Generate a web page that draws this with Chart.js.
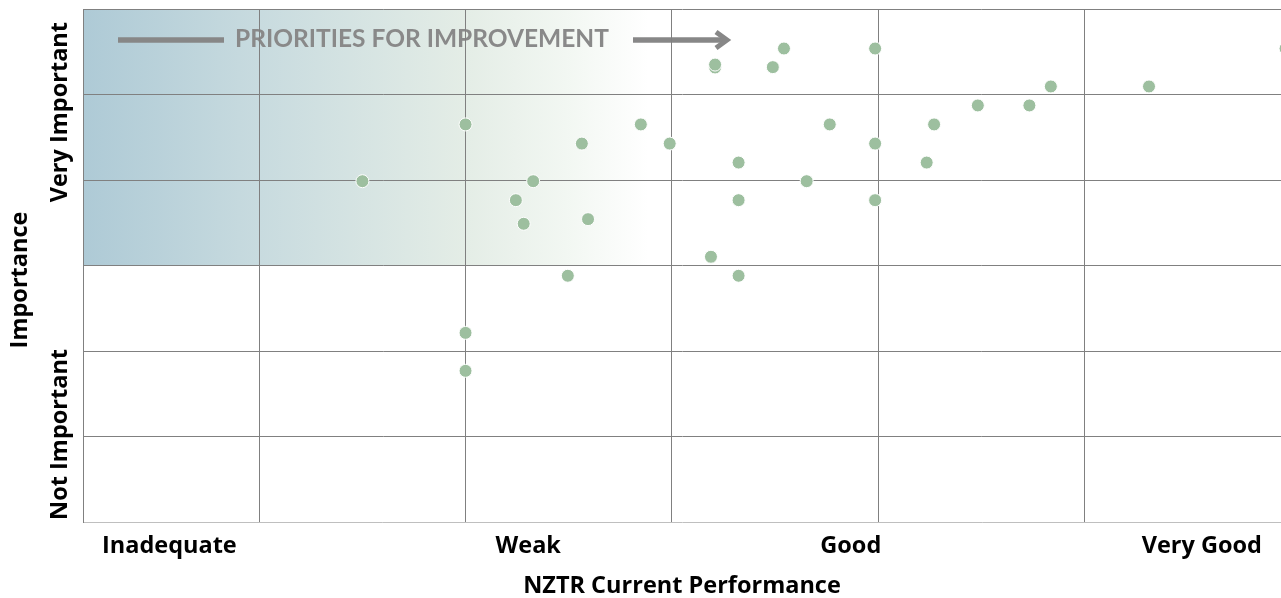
<!DOCTYPE html>
<html><head><meta charset="utf-8">
<script src="https://cdn.jsdelivr.net/npm/chart.js@4.4.1/dist/chart.umd.min.js"></script>
<style>html,body{margin:0;padding:0;background:#fff;overflow:hidden}</style>
</head><body>
<canvas id="c" width="1281" height="598"></canvas>
<script>
// ---- data ----
const perfScores = [1.75, 2.772, 2.605, 2.605, 2.745, 2.0, 2.425, 2.883, 2.282, 2.495, 2.662, 2.164, 2.827, 2.122, 2.662, 2.141, 2.297, 2.595, 2.248, 2.662, 2.993, 3.988, 3.419, 3.657, 3.242, 3.367, 3.136, 2.993, 3.118, 2.993, 2.0, 2.0];
const importance = [2.993, 3.769, 3.658, 3.675, 3.660, 3.325, 3.325, 3.325, 3.213, 3.213, 3.102, 2.993, 2.993, 2.882, 2.882, 2.744, 2.771, 2.551, 2.44, 2.44, 3.769, 3.769, 3.547, 3.547, 3.436, 3.436, 3.325, 3.213, 3.102, 2.882, 2.106, 1.884];
const xRange = [1.0726, 3.977];
const yRange = [1, 4];
const xGridTicks = [1.5, 2, 2.5, 3, 3.5];
const yGridTicks = [1.5, 2, 2.5, 3, 3.5, 4];
const xTickLabels = ['Inadequate', 'Weak', 'Good', 'Very Good'];
const xTickValues = [1.282, 2.152, 2.934, 3.785];
const yTickLabels = ['Very Important', 'Not Important'];
const yTickValues = [3.924, 2.012];
const yTitleLabels = ['Importance'];
const yTitleValues = [2.815];
const xTitle = 'NZTR Current Performance';
const bannerText = 'PRIORITIES FOR IMPROVEMENT';
const priorityZone = {xTo: 2.5, yFrom: 2.5, yTo: 4};

const FAM = '"Open Sans"';
const tickFont = {family: FAM, size: 23.5, weight: 'bold', lineHeight: 1.2};
const setTicks = vals => s => { s.ticks = vals.map(v => ({value: v})); };

const backdrop = {
  id: 'backdrop',
  beforeDraw(chart) {
    const {ctx, scales: {x, y}} = chart;
    const l = x.getPixelForValue(x.min), r = x.getPixelForValue(priorityZone.xTo);
    const t = y.getPixelForValue(priorityZone.yTo), b = y.getPixelForValue(priorityZone.yFrom);
    const g = ctx.createLinearGradient(l, 0, r, 0);
    g.addColorStop(0, '#aecad6');
    g.addColorStop(0.3, '#c8dbdf');
    g.addColorStop(0.65, '#e4ede6');
    g.addColorStop(0.82, '#f2f7f2');
    g.addColorStop(0.96, '#ffffff');
    ctx.save();
    ctx.fillStyle = g;
    ctx.fillRect(l, t, r - l, b - t);
    ctx.strokeStyle = '#878787';
    ctx.lineWidth = 5.5;
    ctx.beginPath(); ctx.moveTo(118, 40); ctx.lineTo(224, 40); ctx.stroke();
    ctx.beginPath(); ctx.moveTo(633, 40); ctx.lineTo(726, 40); ctx.stroke();
    ctx.lineWidth = 5;
    ctx.lineJoin = 'miter';
    ctx.beginPath(); ctx.moveTo(716, 32); ctx.lineTo(727, 40); ctx.lineTo(716, 48); ctx.stroke();
    ctx.fillStyle = '#898989';
    ctx.font = 'bold 24.5px Lato';
    ctx.textBaseline = 'alphabetic';
    ctx.fillText(bannerText, 235, 47);
    ctx.restore();
  }
};

new Chart(document.getElementById('c'), {
  type: 'scatter',
  data: {datasets: [{
    data: perfScores.map((v, i) => ({x: v, y: importance[i]})),
    xAxisID: 'x', yAxisID: 'y',
    backgroundColor: '#9dbf9f', borderColor: '#ffffff', borderWidth: 1,
    pointRadius: 6.5, pointHoverRadius: 6.5
  }]},
  options: {
    responsive: false, animation: false, devicePixelRatio: 1, events: [],
    layout: {autoPadding: false, padding: {top: 9, left: 0, right: 0, bottom: 0}},
    plugins: {legend: {display: false}, tooltip: {enabled: false}},
    scales: {
      x: {
        type: 'linear', position: 'bottom', min: xRange[0], max: xRange[1], weight: 0, z: 1,
        afterBuildTicks: setTicks(xGridTicks),
        ticks: {display: false},
        grid: {color: '#808080', lineWidth: 1, drawTicks: false},
        border: {display: true, color: '#bfbfbf', width: 1},
        afterFit: s => { s.height = 0; s.paddingLeft = 0; s.paddingRight = 0; }
      },
      xLabels: {
        type: 'linear', position: 'bottom', min: xRange[0], max: xRange[1], weight: 1,
        afterBuildTicks: setTicks(xTickValues),
        ticks: {autoSkip: false, minRotation: 0, maxRotation: 0, padding: 10, font: tickFont, color: '#000',
          callback: (v, i) => xTickLabels[i]},
        grid: {display: false, drawTicks: false},
        border: {display: false},
        title: {display: true, text: xTitle, color: '#000', padding: {top: 0, bottom: 0},
          font: {family: FAM, size: 23.5, weight: 'bold', lineHeight: 1}},
        afterFit: s => { s.height = 76; s.paddingLeft = 0; s.paddingRight = 0; }
      },
      y: {
        type: 'linear', position: 'left', min: yRange[0], max: yRange[1], weight: 0, z: 1,
        afterBuildTicks: setTicks(yGridTicks),
        ticks: {display: false},
        grid: {color: '#808080', lineWidth: 1, drawTicks: false},
        border: {display: true, color: '#808080', width: 1},
        afterFit: s => { s.width = 0; s.paddingTop = 0; s.paddingBottom = 0; }
      },
      yLabels: {
        type: 'linear', position: 'left', min: yRange[0], max: yRange[1], weight: 1,
        afterBuildTicks: setTicks(yTickValues),
        ticks: {autoSkip: false, minRotation: 90, maxRotation: 90, padding: 23, font: tickFont, color: '#000',
          callback: (v, i) => yTickLabels[i]},
        grid: {display: false, drawTicks: false},
        border: {display: false},
        afterFit: s => { s.width = 43; s.paddingTop = 0; s.paddingBottom = 0; }
      },
      yTitle: {
        type: 'linear', position: 'left', min: yRange[0], max: yRange[1], weight: 2,
        afterBuildTicks: setTicks(yTitleValues),
        ticks: {autoSkip: false, minRotation: 90, maxRotation: 90, padding: 20, font: tickFont, color: '#000',
          callback: (v, i) => yTitleLabels[i]},
        grid: {display: false, drawTicks: false},
        border: {display: false},
        afterFit: s => { s.width = 40; s.paddingTop = 0; s.paddingBottom = 0; }
      }
    }
  },
  plugins: [backdrop]
});
</script>
</body></html>
